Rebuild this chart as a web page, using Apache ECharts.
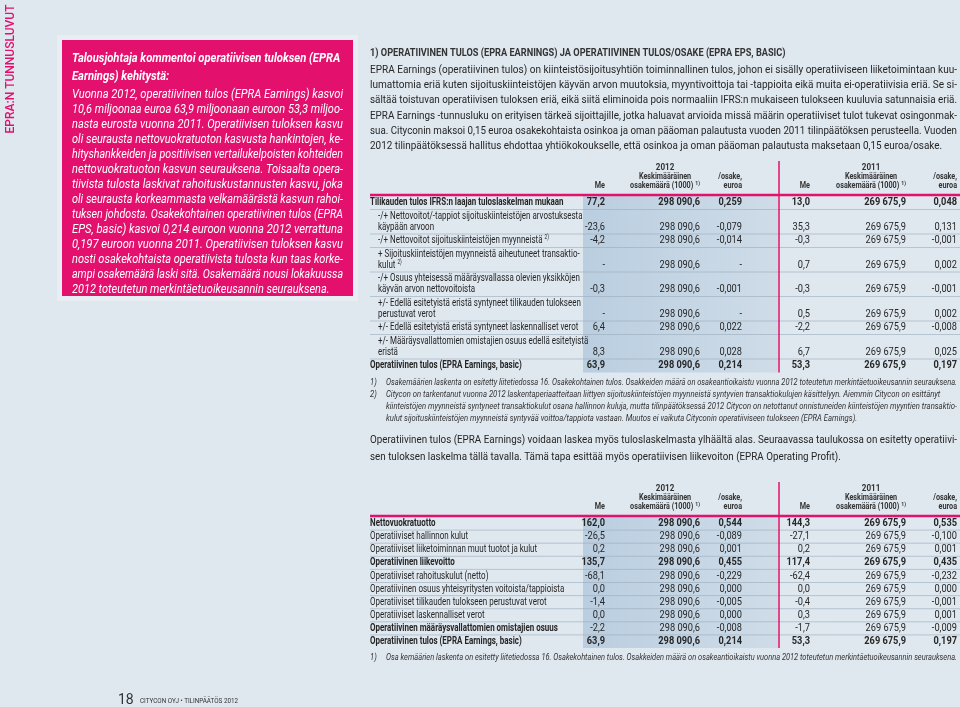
<!DOCTYPE html>
<html>
<head>
<meta charset="utf-8">
<script src="https://cdn.jsdelivr.net/npm/echarts@6/dist/echarts.min.js"></script>
<style>
  html, body { margin: 0; padding: 0; background: #dfe7ef; }
  #main { width: 960px; height: 707px; }
</style>
</head>
<body>
<div id="main"></div>
<script>
// ---- page texts ----
const sideTitle = "EPRA:N TUNNUSLUVUT";

const boxHead = [
  "Talousjohtaja kommentoi operatiivisen tuloksen (EPRA",
  "Earnings) kehitystä:",
];
const boxLines = [
  "Vuonna 2012, operatiivinen tulos (EPRA Earnings) kasvoi",
  "10,6 miljoonaa euroa 63,9 miljoonaan euroon 53,3 miljoo-",
  "nasta eurosta vuonna 2011. Operatiivisen tuloksen kasvu",
  "oli seurausta nettovuokratuoton kasvusta hankintojen, ke-",
  "hityshankkeiden ja positiivisen vertailukelpoisten kohteiden",
  "nettovuokratuoton kasvun seurauksena. Toisaalta opera-",
  "tiivista tulosta laskivat rahoituskustannusten kasvu, joka",
  "oli seurausta korkeammasta velkamäärästä kasvun rahoi-",
  "tuksen johdosta. Osakekohtainen operatiivinen tulos (EPRA",
  "EPS, basic) kasvoi 0,214 euroon vuonna 2012 verrattuna",
  "0,197 euroon vuonna 2011. Operatiivisen tuloksen kasvu",
  "nosti osakekohtaista operatiivista tulosta kun taas korke-",
  "ampi osakemäärä laski sitä. Osakemäärä nousi lokakuussa",
  "2012 toteutetun merkintäetuoikeusannin seurauksena.",
];

const introHead = "1) OPERATIIVINEN TULOS (EPRA EARNINGS) JA OPERATIIVINEN TULOS/OSAKE (EPRA EPS, BASIC)";
const introLines = [
  "EPRA Earnings (operatiivinen tulos) on kiinteistösijoitusyhtiön toiminnallinen tulos, johon ei sisälly operatiiviseen liiketoimintaan kuu-",
  "lumattomia eriä kuten sijoituskiinteistöjen käyvän arvon muutoksia, myyntivoittoja tai -tappioita eikä muita ei-operatiivisia eriä. Se si-",
  "sältää toistuvan operatiivisen tuloksen eriä, eikä siitä eliminoida pois normaaliin IFRS:n mukaiseen tulokseen kuuluvia satunnaisia eriä.",
  "EPRA Earnings -tunnusluku on erityisen tärkeä sijoittajille, jotka haluavat arvioida missä määrin operatiiviset tulot tukevat osingonmak-",
  "sua. Cityconin maksoi 0,15 euroa osakekohtaista osinkoa ja oman pääoman palautusta vuoden 2011 tilinpäätöksen perusteella. Vuoden",
  "2012 tilinpäätöksessä hallitus ehdottaa yhtiökokoukselle, että osinkoa ja oman pääoman palautusta maksetaan 0,15 euroa/osake.",
];

const years = ["2012", "2011"];

// ---- table 1 ----
const t1Labels = [
  ["Tilikauden tulos IFRS:n laajan tuloslaskelman mukaan"],
  ["-/+ Nettovoitot/-tappiot sijoituskiinteistöjen arvostuksesta", "käypään arvoon"],
  ["-/+ Nettovoitot sijoituskiinteistöjen myynneistä^2)"],
  ["+ Sijoituskiinteistöjen myynneistä aiheutuneet transaktio-", "kulut^2)"],
  ["-/+ Osuus yhteisessä määräysvallassa olevien yksikköjen", "käyvän arvon nettovoitoista"],
  ["+/- Edellä esitetyistä eristä syntyneet tilikauden tulokseen", "perustuvat verot"],
  ["+/- Edellä esitetyistä eristä syntyneet laskennalliset verot"],
  ["+/- Määräysvallattomien omistajien osuus edellä esitetyistä", "eristä"],
  ["Operatiivinen tulos (EPRA Earnings, basic)"],
];
const t1Indent = [0, 1, 1, 1, 1, 1, 1, 1, 0];
const t1Bold = [1, 0, 0, 0, 0, 0, 0, 0, 1];
const t1Me2012 = [77.2, -23.6, -4.2, null, -0.3, null, 6.4, 8.3, 63.9];
const t1Shares2012 = [298090.6, 298090.6, 298090.6, 298090.6, 298090.6, 298090.6, 298090.6, 298090.6, 298090.6];
const t1Eps2012 = [0.259, -0.079, -0.014, null, -0.001, null, 0.022, 0.028, 0.214];
const t1Me2011 = [13.0, 35.3, -0.3, 0.7, -0.3, 0.5, -2.2, 6.7, 53.3];
const t1Shares2011 = [269675.9, 269675.9, 269675.9, 269675.9, 269675.9, 269675.9, 269675.9, 269675.9, 269675.9];
const t1Eps2011 = [0.048, 0.131, -0.001, 0.002, -0.001, 0.002, -0.008, 0.025, 0.197];

// footnote lines: [marker, text, justified]
const t1Notes = [
  ["1)", "Osakemäärien laskenta on esitetty liitetiedossa 16. Osakekohtainen tulos. Osakkeiden määrä on osakeantioikaistu vuonna 2012 toteutetun merkintäetuoikeusannin seurauksena.", 1],
  ["2)", "Citycon on tarkentanut vuonna 2012 laskentaperiaatteitaan liittyen sijoituskiinteistöjen myynneistä syntyvien transaktiokulujen käsittelyyn. Aiemmin Citycon on esittänyt", 0],
  ["", "kiinteistöjen myynneistä syntyneet transaktiokulut osana hallinnon kuluja, mutta tilinpäätöksessä 2012 Citycon on netottanut onnistuneiden kiinteistöjen myyntien transaktio-", 1],
  ["", "kulut sijoituskiinteistöjen myynneistä syntyvää voittoa/tappiota vastaan. Muutos ei vaikuta Cityconin operatiiviseen tulokseen (EPRA Earnings).", 0],
];

const midLines = [
  "Operatiivinen tulos (EPRA Earnings) voidaan laskea myös tuloslaskelmasta ylhäältä alas. Seuraavassa taulukossa on esitetty operatiivi-",
  "sen tuloksen laskelma tällä tavalla. Tämä tapa esittää myös operatiivisen liikevoiton (EPRA Operating Profit).",
];

// ---- table 2 ----
const t2Labels = [
  ["Nettovuokratuotto"],
  ["Operatiiviset hallinnon kulut"],
  ["Operatiiviset liiketoiminnan muut tuotot ja kulut"],
  ["Operatiivinen liikevoitto"],
  ["Operatiiviset rahoituskulut (netto)"],
  ["Operatiivinen osuus yhteisyritysten voitoista/tappioista"],
  ["Operatiiviset tilikauden tulokseen perustuvat verot"],
  ["Operatiiviset laskennalliset verot"],
  ["Operatiivinen määräysvallattomien omistajien osuus"],
  ["Operatiivinen tulos (EPRA Earnings, basic)"],
];
const t2BoldLabel = [1, 0, 0, 1, 0, 0, 0, 0, 1, 1];
const t2BoldValue = [1, 0, 0, 1, 0, 0, 0, 0, 0, 1];
const t2Me2012 = [162.0, -26.5, 0.2, 135.7, -68.1, 0.0, -1.4, 0.0, -2.2, 63.9];
const t2Shares2012 = [298090.6, 298090.6, 298090.6, 298090.6, 298090.6, 298090.6, 298090.6, 298090.6, 298090.6, 298090.6];
const t2Eps2012 = [0.544, -0.089, 0.001, 0.455, -0.229, 0.000, -0.005, 0.000, -0.008, 0.214];
const t2Me2011 = [144.3, -27.1, 0.2, 117.4, -62.4, 0.0, -0.4, 0.3, -1.7, 53.3];
const t2Shares2011 = [269675.9, 269675.9, 269675.9, 269675.9, 269675.9, 269675.9, 269675.9, 269675.9, 269675.9, 269675.9];
const t2Eps2011 = [0.535, -0.100, 0.001, 0.435, -0.232, 0.000, -0.001, 0.001, -0.009, 0.197];

const t2Note = ["1)", "Osa kemäärien laskenta on esitetty liitetiedossa 16. Osakekohtainen tulos. Osakkeiden määrä on osakeantioikaistu vuonna 2012 toteutetun merkintäetuoikeusannin seurauksena."];

const pageNo = "18";
const footerText = "CITYCON OYJ • TILINPÄÄTÖS 2012";

// ---- drawing helpers ----
const FONT = "Roboto";
const INK = "#262626";
const PINK = "#e3106d";
const BG = "#dfe7ef";
const COLS = [605, 700, 742, 810, 906, 957]; // right edges of value columns

const ctx = document.createElement("canvas").getContext("2d");
function measure(s, o) {
  ctx.font = (o.italic ? "italic " : "") + (o.weight || "normal") + " " + o.size + "px " + FONT;
  return ctx.measureText(s).width;
}

const els = [];
function text(s, x, y, o) {
  const w = measure(s, o);
  const sx = o.width ? o.width / w : (o.sx || 1);
  els.push({
    type: "text", x: x, y: y, scaleX: sx, rotation: o.rotation || 0, silent: true, z: 10,
    style: {
      text: s, fontSize: o.size, fontFamily: FONT,
      fontWeight: o.weight || "normal", fontStyle: o.italic ? "italic" : "normal",
      fill: o.color || INK,
      textAlign: o.align || "left", align: o.align || "left",
      textVerticalAlign: "middle", verticalAlign: "middle",
    },
  });
  return w * sx;
}
function line(x1, y1, x2, y2, color, lw) {
  els.push({ type: "line", silent: true, z: 5, shape: { x1, y1, x2, y2 }, style: { stroke: color, lineWidth: lw } });
}
function rect(x, y, w, h, fill, z) {
  els.push({ type: "rect", silent: true, z: z || 1, shape: { x, y, width: w, height: h }, style: { fill } });
}

// justified paragraph: every line but the last is stretched to width
function para(lines, x, y0, lh, width, o) {
  const scales = lines.slice(0, -1).map((s) => width / measure(s, o));
  const mean = scales.reduce((a, b) => a + b, 0) / scales.length;
  lines.forEach((s, i) => {
    text(s, x, y0 + i * lh, Object.assign({}, o, i < lines.length - 1 ? { width } : { sx: mean }));
  });
  return mean;
}

function labelSup(s, x, y, o) {
  const p = s.split("^");
  const w = text(p[0], x, y, o);
  if (p[1]) text(p[1], x + w + 2, y - 3, Object.assign({}, o, { size: o.size * 0.6 }));
}

function fmt(v, d) {
  if (v === null) return "-";
  const p = Math.abs(v).toFixed(d).split(".");
  return (v < 0 ? "-" : "") + p[0].replace(/\B(?=(\d{3})+(?!\d))/g, " ") + "," + p[1];
}

function header(ruleY) {
  const hs = { size: 8.5, weight: "bold", sx: 0.85, color: "#333" };
  for (let k = 0; k < 2; k++) {
    const c = COLS.slice(k * 3, k * 3 + 3);
    const y3 = ruleY - 9, y2 = ruleY - 18, y1 = ruleY - 27;
    text("Me", c[0], y3, Object.assign({}, hs, { align: "right" }));
    const supO = Object.assign({}, hs, { size: 6, align: "right" });
    const sw = measure("1)", supO) * supO.sx;
    text("1)", c[1], y3 - 3, supO);
    const mw = text("osakemäärä (1000)", c[1] - sw - 2, y3, Object.assign({}, hs, { align: "right" }));
    const cx = c[1] - (mw + sw + 2) / 2;
    text("Keskimääräinen", cx, y2, Object.assign({}, hs, { align: "center" }));
    text(years[k], cx, y1, Object.assign({}, hs, { size: 9.5, align: "center" }));
    text("/osake,", c[2], y2, Object.assign({}, hs, { align: "right" }));
    text("euroa", c[2], y3, Object.assign({}, hs, { align: "right" }));
  }
  line(370, ruleY, 960, ruleY, PINK, 2.5);
}

function table(ruleY, labels, indent, boldLab, boldVal, cols, rowH, extraH) {
  header(ruleY);
  let top = ruleY + 1;
  const startTop = top;
  labels.forEach((lab, i) => {
    const n = lab.length;
    const h = rowH + extraH * (n - 1);
    const lo = { size: 10.5, sx: 0.76, weight: boldLab[i] ? "bold" : "normal" };
    lab.forEach((s, j) => labelSup(s, indent[i] ? 378 : 370, top + 6.5 + j * extraH, lo));
    const vy = top + 6.5 + (n - 1) * extraH;
    const vo = { size: 10.5, sx: 0.88, align: "right", weight: boldVal[i] ? "bold" : "normal" };
    const digits = [1, 1, 3, 1, 1, 3];
    cols.forEach((arr, c) => text(fmt(arr[i], digits[c]), COLS[c], vy, vo));
    top += h;
    if (i < labels.length - 1) line(370, top, 960, top, "#9aabbb", 0.6);
  });
  rect(583, startTop, 195, top - startTop,
    new echarts.graphic.LinearGradient(0, 0, 1, 0, [
      { offset: 0, color: "#bacee0" },
      { offset: 1, color: "#cfdce8" },
    ]), 2);
  line(779, ruleY - 34, 779, top, PINK, 1.5);
  return top;
}

// ---- build page ----
// vertical section title
text(sideTitle, 11, 69, { size: 12, weight: "500", color: PINK, align: "center", rotation: Math.PI / 2 });

// pink comment box
rect(57, 35, 301, 266, "#e8eef4", 1);
rect(62, 40, 291, 256, PINK, 2);
const boxScale = para(boxLines, 72, 95, 15, 271, { size: 12, italic: true, color: "#fff" });
boxHead.forEach((s, i) => text(s, 72, 59 + i * 18, { size: 12.5, weight: "bold", italic: true, color: "#fff", sx: boxScale * 0.98 }));

// intro
text(introHead, 370, 53, { size: 11.5, weight: "bold", sx: 0.8, color: "#333" });
para(introLines, 370, 70, 15.3, 587, { size: 11.5 });

// table 1
table(195, t1Labels, t1Indent, t1Bold, t1Bold,
  [t1Me2012, t1Shares2012, t1Eps2012, t1Me2011, t1Shares2011, t1Eps2011], 13.5, 11);

// footnotes 1
const noteO = { size: 8.5, italic: true, color: "#333" };
const noteScale = 571 / measure(t1Notes[2][1], noteO);
t1Notes.forEach((n, i) => {
  const y = 383 + i * 12;
  if (n[0]) text(n[0], 370, y, Object.assign({}, noteO, { sx: noteScale }));
  text(n[1], 386, y, Object.assign({}, noteO, n[2] ? { width: 571 } : { sx: noteScale }));
});

// middle paragraph
para(midLines, 370, 440, 17, 587, { size: 11.5 });

// table 2
table(516, t2Labels, t2Labels.map(() => 0), t2BoldLabel, t2BoldValue,
  [t2Me2012, t2Shares2012, t2Eps2012, t2Me2011, t2Shares2011, t2Eps2011], 13.1, 11);

text(t2Note[0], 370, 658, Object.assign({}, noteO, { sx: noteScale }));
text(t2Note[1], 386, 658, Object.assign({}, noteO, { width: 571 }));

// footer
text(pageNo, 118, 700, { size: 14, color: "#333" });
text(footerText, 140, 701, { size: 7, color: "#333", sx: 0.9 });

const chart = echarts.init(document.getElementById("main"));
chart.setOption({
  backgroundColor: BG,
  animation: false,
  graphic: { elements: els },
});
</script>
</body>
</html>
